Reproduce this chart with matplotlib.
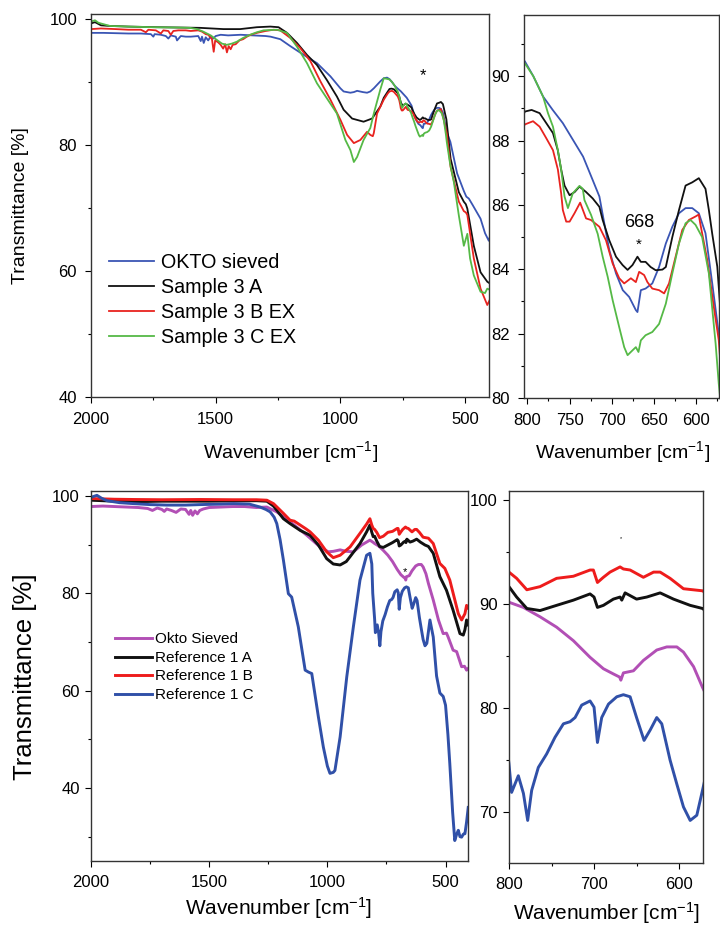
import numpy as np
import matplotlib
matplotlib.use("Agg")
import matplotlib.pyplot as plt
from matplotlib.ticker import MultipleLocator

plt.rcParams["font.family"] = ["Liberation Sans", "DejaVu Sans"]
plt.rcParams["mathtext.fontset"] = "custom"
plt.rcParams["mathtext.rm"] = "Liberation Sans"
plt.rcParams["mathtext.it"] = "Liberation Sans"

# ---------------- top: OKTO sieved / Sample 3 ----------------
okto_wn = [2000, 1950, 1900, 1850, 1800, 1760, 1750, 1745, 1720, 1700, 1690, 1680, 1660, 1655,
           1640, 1620, 1600, 1570, 1560, 1555, 1548, 1540, 1530, 1520, 1510, 1500, 1480, 1450,
           1400, 1350, 1300, 1280, 1241, 1201, 1147, 1094, 1040, 1000, 987, 960, 946, 933, 910,
           893, 880, 866, 840, 826, 813, 803, 793, 781.5, 770, 758, 746, 734, 722.6, 714.7, 710.8,
           703, 695, 687, 679.4, 671.5, 669.6, 665.6, 660, 652, 644, 636, 628.3, 620.4, 612.6,
           604.7, 596.9, 589, 581, 573.3, 559, 532, 505, 495, 485, 470, 438, 420, 405, 400]
okto_t = [97.8, 97.8, 97.75, 97.7, 97.7, 97.6, 97.2, 97.6, 97.5, 97.3, 96.9, 97.4, 97.2, 96.6,
          97.3, 97.2, 97.2, 97.3, 96.5, 97.2, 96.2, 97.1, 96.6, 97.3, 96.9, 97.3, 97.5, 97.4,
          97.5, 97.4, 97.3, 97.2, 96.8, 95.7, 94.3, 93.0, 90.9, 89.0, 88.5, 88.3, 88.4, 88.6, 88.4,
          88.3, 88.5, 89.0, 90.1, 90.6, 90.7, 90.46, 90.0, 89.37, 88.95, 88.54, 88.02, 87.5, 86.77,
          86.26, 85.7, 84.6, 83.87, 83.35, 83.14, 82.73, 82.67, 83.35, 83.4, 83.56, 84.07, 84.8,
          85.32, 85.74, 85.9, 85.9, 85.74, 85.12, 83.56, 82.0, 80.5, 75.5, 72.7, 71.8, 71.5, 70.5,
          68.3, 66.0, 64.8, 65.5]

s3a_wn = [2000, 1984, 1960, 1924, 1850, 1737, 1650, 1563, 1469, 1402, 1335, 1281, 1248, 1214,
          1174, 1134, 1094, 1054, 1014, 987, 953, 907, 873, 840, 826, 813, 803, 795, 785.5, 777.6,
          769.7, 764, 760, 756, 750, 744, 738.3, 730.5, 722.6, 714.7, 710.8, 703, 695, 687.2,
          681.3, 675.5, 669.6, 665.6, 660, 654, 648, 640, 636, 628.3, 620.4, 612.6, 604.7, 596.9,
          589, 585, 581, 575, 573, 558, 525, 505, 497, 491, 465, 438, 411, 400]
s3a_t = [99.3, 99.5, 99.0, 98.9, 98.8, 98.7, 98.65, 98.6, 98.4, 98.4, 98.7, 98.8, 98.7, 97.8,
         96.2, 94.3, 92.7, 90.3, 87.7, 85.6, 84.2, 83.7, 84.2, 86.1, 87.5, 88.3, 88.9, 88.95, 88.85,
         88.54, 88.23, 87.7, 87.1, 86.6, 86.3, 86.4, 86.57, 86.4, 86.2, 85.94, 85.53, 84.9, 84.39,
         84.13, 83.98, 84.13, 84.39, 84.23, 84.23, 84.07, 83.97, 83.99, 84.07, 85.0, 85.84, 86.6,
         86.7, 86.83, 86.5, 85.84, 85.1, 84.08, 83.35, 77.8, 72.5, 71.0, 70.6, 69.9, 64.0, 59.8,
         58.3, 58.0]

s3b_wn = [2000, 1960, 1900, 1850, 1800, 1780, 1770, 1740, 1720, 1710, 1690, 1680, 1670, 1650,
          1620, 1600, 1570, 1555, 1540, 1530, 1515, 1508, 1502, 1490, 1480, 1470, 1462, 1455,
          1448, 1440, 1432, 1420, 1405, 1390, 1375, 1360, 1335, 1300, 1268, 1241, 1201, 1161,
          1120, 1080, 1040, 1000, 973, 946, 920, 893, 880, 870, 866, 853, 826, 810, 803, 793.3,
          785.5, 777.6, 769.7, 763.9, 760, 758, 754, 750, 744.2, 737.5, 730.5, 724.6, 714.7,
          706.9, 699, 691.2, 685.3, 677.4, 671.5, 667.6, 661.7, 657.8, 652, 644, 638, 632.2,
          624.4, 616.5, 608.7, 600.8, 597, 594.9, 587, 579.2, 573.3, 558, 525, 505, 497, 491,
          465, 438, 411, 400]
s3b_t = [98.4, 98.5, 98.4, 98.3, 98.3, 97.9, 98.3, 98.2, 97.7, 98.2, 98.1, 97.5, 98.1, 98.2,
         98.2, 98.1, 98.2, 98.0, 97.6, 97.5, 96.8, 94.8, 96.6, 96.3, 95.9, 95.3, 96.0, 94.7, 95.7,
         95.2, 95.9, 96.0, 96.6, 96.8, 97.2, 97.5, 97.8, 98.1, 98.3, 98.2, 97.0, 95.4, 93.3, 90.1,
         87.2, 84.0, 81.6, 80.3, 80.8, 82.1, 81.6, 81.4, 81.9, 85.0, 87.2, 88.2, 88.5, 88.6,
         88.43, 88.07, 87.7, 87.1, 86.36, 85.84, 85.48, 85.48, 85.74, 86.07, 85.58, 85.53, 85.32,
         84.9, 84.18, 83.72, 83.56, 83.72, 83.6, 83.92, 83.82, 83.6, 83.4, 83.35, 83.25, 83.56,
         84.39, 85.22, 85.53, 85.64, 85.7, 85.38, 84.3, 82.84, 81.8, 76.5, 71.0, 69.5, 69.3, 68.9,
         62.0, 57.2, 54.6, 55.5]

s3c_wn = [2000, 1984, 1970, 1924, 1850, 1750, 1650, 1603, 1575, 1550, 1520, 1496, 1475, 1456,
          1435, 1415, 1390, 1362, 1335, 1308, 1254, 1214, 1174, 1134, 1094, 1054, 1014, 980, 960,
          946, 933, 907, 880, 866, 840, 826, 813, 803, 793, 781.5, 775.6, 769.7, 763.9, 760, 756,
          752, 746.2, 738.3, 734.4, 732.4, 724.6, 716.7, 710.8, 704.9, 699, 691.2, 685.3, 681.3,
          675.5, 671.5, 668.4, 665.6, 660, 652, 644, 636, 628.3, 620.4, 612.6, 606.7, 600.8, 593,
          585, 577, 573.3, 560, 545, 525, 505, 491, 480, 465, 438, 420, 411, 400]
s3c_t = [99.6, 99.8, 99.4, 98.9, 98.8, 98.7, 98.65, 98.6, 98.4, 98.0, 97.4, 96.7, 96.1, 95.9,
         96.1, 96.4, 97.0, 97.5, 97.9, 98.2, 98.3, 97.8, 95.6, 93.0, 89.8, 87.4, 85.0, 80.8, 79.2,
         77.3, 78.1, 80.8, 82.7, 85.0, 88.8, 90.6, 90.5, 90.4, 90.0, 89.37, 88.85, 88.43, 87.7,
         87.1, 86.26, 85.9, 86.36, 86.59, 86.5, 86.15, 85.69, 85.1, 84.39, 83.77, 83.04, 82.2,
         81.58, 81.33, 81.48, 81.58, 81.43, 81.79, 81.95, 82.05, 82.3, 82.93, 83.87, 84.8, 85.43,
         85.53, 85.38, 85.0, 83.87, 81.69, 80.45, 77.0, 74.1, 68.8, 64.0, 65.9, 62.0, 59.3, 56.7,
         56.5, 57.2, 57.0]

# ---------------- bottom: Okto sieved / Reference 1 ----------------
okto2_wn = [2000, 1950, 1900, 1850, 1800, 1760, 1740, 1720, 1700, 1690, 1680, 1660, 1640, 1620,
            1600, 1585, 1578, 1570, 1560, 1550, 1540, 1525, 1500, 1450, 1400, 1350, 1300, 1256,
            1214, 1158, 1087, 1031, 996, 975, 946, 920, 890, 855, 820, 805, 800, 783, 763.5, 744,
            724.3, 704.7, 689, 677.3, 670, 668.5, 665.5, 653.7, 642, 626.3, 614.5, 602.7, 594.9,
            583, 572.5, 552, 530, 510, 496, 489, 468, 453, 432, 420, 411, 405]
okto2_t = [97.8, 97.9, 97.8, 97.7, 97.6, 97.4, 97.0, 97.5, 97.2, 96.8, 97.3, 97.0, 96.6, 97.3,
           97.2, 96.2, 97.0, 96.0, 96.9, 96.3, 97.0, 97.3, 97.6, 97.7, 97.8, 97.8, 97.6, 97.7,
           96.7, 94.7, 91.9, 89.5, 88.5, 88.6, 88.9, 88.6, 88.5, 89.9, 90.9, 90.4, 90.2, 89.7, 88.8,
           87.8, 86.5, 84.9, 83.8, 83.3, 83.0, 82.7, 83.4, 83.6, 84.6, 85.6, 85.9, 85.9, 85.4, 84.0,
           82.0, 78.6, 74.5, 71.7, 71.8, 71.0, 68.3, 68.0, 64.9, 65.0, 64.2, 64.5]

r1a_wn = [2000, 1900, 1820, 1700, 1600, 1500, 1400, 1300, 1256, 1228, 1186, 1158, 1115, 1073,
          1038, 1003, 975, 946, 920, 904, 862, 834, 820, 812, 806, 800, 791, 779, 763.5, 744,
          724.3, 704.7, 700, 696, 689, 677.3, 669.4, 667.4, 663.5, 650, 638, 622.3, 606.6, 587,
          572.5, 552, 524, 510, 496, 468, 439, 425, 418, 411, 405]
r1a_t = [99.1, 98.9, 98.8, 98.9, 98.9, 98.9, 98.95, 99.0, 98.9, 97.9, 95.3, 94.3, 92.9, 91.9,
         89.9, 87.1, 86.0, 85.8, 86.5, 87.5, 90.2, 92.6, 94.0, 92.5, 91.6, 91.7, 90.7, 89.6, 89.4,
         89.9, 90.4, 91.0, 90.7, 89.7, 89.9, 90.5, 90.7, 90.4, 91.1, 90.5, 90.7, 91.1, 90.5, 89.9,
         89.6, 88.2, 83.4, 82.0, 80.6, 76.5, 71.7, 71.4, 72.5, 74.5, 73.5]

r1b_wn = [2000, 1900, 1820, 1700, 1538, 1400, 1300, 1256, 1228, 1186, 1158, 1140, 1115, 1090,
          1073, 1038, 1003, 975, 946, 904, 862, 834, 820, 812, 806, 800, 791, 779, 763.5, 744,
          724.3, 704.7, 700.8, 696, 689, 681.2, 669.4, 665.5, 657.6, 642, 630, 622.3, 610.6,
          594.9, 572.5, 552, 524, 503, 482, 446, 432, 418, 411, 405]
r1b_t = [99.45, 99.3, 99.25, 99.2, 99.25, 99.2, 99.2, 99.1, 98.4, 96.4, 95.0, 94.8, 94.0, 93.2,
         92.6, 90.9, 88.5, 87.3, 87.8, 89.5, 92.3, 94.2, 95.3, 94.0, 93.3, 93.1, 92.5, 91.4, 91.7,
         92.5, 92.7, 93.3, 93.3, 92.1, 92.6, 93.1, 93.6, 93.4, 93.3, 92.6, 93.1, 93.1, 92.5, 91.5,
         91.3, 90.2, 86.1, 85.1, 82.7, 75.8, 74.5, 75.8, 77.5, 77.0]

r1c_wn = [2000, 1975, 1955, 1932, 1880, 1820, 1750, 1679, 1600, 1538, 1450, 1397, 1330, 1285,
          1260, 1242, 1225, 1214, 1200, 1186, 1165, 1151, 1123, 1094, 1080, 1066, 1038, 1017,
          1000, 989, 975, 968, 946, 918, 890, 862, 834, 820, 812, 808, 800, 796.9, 789, 783, 778,
          773.3, 765.5, 755.7, 745.9, 736, 728.2, 722.3, 714.5, 704.7, 700, 696, 691, 683, 673.3,
          665.5, 657.6, 650, 641.2, 634, 626.3, 620.4, 610.6, 602.7, 594.9, 587, 579.2, 572.5,
          566, 552, 538, 524, 510, 500, 490, 482, 470, 461, 453, 446, 439, 432, 425, 418, 411, 404]
r1c_t = [99.7, 100.1, 99.5, 99.0, 98.6, 98.4, 98.2, 98.1, 98.1, 98.2, 98.3, 98.4, 98.3, 97.7,
         97.2, 96.7, 95.6, 94.3, 91.0, 86.8, 79.9, 79.2, 73.1, 64.2, 63.8, 63.5, 54.6, 48.4, 44.5,
         43.0, 43.2, 43.6, 50.5, 62.8, 73.1, 82.7, 87.8, 88.2, 86.0, 80.0, 74.65, 71.9, 73.5,
         71.8, 69.2, 72.1, 74.3, 75.6, 77.2, 78.5, 78.7, 79.1, 80.3, 80.7, 80.1, 76.7, 79.1, 80.4,
         81.1, 81.3, 81.1, 79.1, 76.9, 77.9, 79.1, 78.5, 75.0, 72.7, 70.5, 69.2, 69.7, 72.1, 74.5,
         71.0, 63.0, 59.5, 58.8, 57.0, 51.0, 45.0, 35.0, 29.2, 30.5, 31.3, 30.0, 29.9, 30.5, 30.6,
         33.0, 36.0]

top_series = [(okto_wn, okto_t, "#3a55b4", "OKTO sieved"),
              (s3a_wn, s3a_t, "#111111", "Sample 3 A"),
              (s3b_wn, s3b_t, "#e8231f", "Sample 3 B EX"),
              (s3c_wn, s3c_t, "#55b946", "Sample 3 C EX")]
bottom_series = [(okto2_wn, okto2_t, "#b24fb5", "Okto Sieved"),
                 (r1a_wn, r1a_t, "#111111", "Reference 1 A"),
                 (r1b_wn, r1b_t, "#ee1c1c", "Reference 1 B"),
                 (r1c_wn, r1c_t, "#3050a8", "Reference 1 C")]


def style(ax, xmaj, xmin, ymaj, ymin, fs, xpad, ypad):
    ax.xaxis.set_major_locator(MultipleLocator(xmaj))
    ax.xaxis.set_minor_locator(MultipleLocator(xmin))
    ax.yaxis.set_major_locator(MultipleLocator(ymaj))
    ax.yaxis.set_minor_locator(MultipleLocator(ymin))
    ax.tick_params(which="major", direction="out", length=4, width=0.8, labelsize=fs)
    ax.tick_params(which="minor", direction="out", length=2.5, width=0.8)
    ax.tick_params(axis="x", which="major", pad=xpad)
    ax.tick_params(axis="y", which="major", pad=ypad)
    for sp in ax.spines.values():
        sp.set_linewidth(1.0)
        sp.set_color("#333333")


fig = plt.figure(figsize=(7.2, 9.26), dpi=100)
fig.patch.set_facecolor("white")

ax1 = fig.add_axes([0.1264, 0.5713, 0.5528, 0.4136])
ax2 = fig.add_axes([0.7278, 0.5702, 0.2708, 0.4136])
ax3 = fig.add_axes([0.1264, 0.0702, 0.5236, 0.3996])
ax4 = fig.add_axes([0.7069, 0.0680, 0.2694, 0.4017])

for wn, t, c, lab in top_series:
    ax1.plot(wn, t, color=c, lw=1.3, label=lab)
    ax2.plot(wn, t, color=c, lw=1.3)
for wn, t, c, lab in bottom_series:
    ax3.plot(wn, t, color=c, lw=2.1, label=lab)
    ax4.plot(wn, t, color=c, lw=2.1)

ax1.set_xlim(2000, 404)
ax1.set_ylim(40, 100.8)
style(ax1, 500, 250, 20, 10, 12, 7, 6)
ax2.set_xlim(804, 573)
ax2.set_ylim(80, 91.9)
style(ax2, 50, 25, 2, 1, 12, 7, 6)
ax3.set_xlim(2000, 405)
ax3.set_ylim(25, 101)
style(ax3, 500, 250, 20, 10, 12, 6, 4)
ax4.set_xlim(800, 572)
ax4.set_ylim(65.1, 100.9)
style(ax4, 100, 50, 10, 5, 12, 6, 4)

ax1.legend(loc="upper left", bbox_to_anchor=(0.045, 0.375), frameon=False, fontsize=14.2,
           handlelength=2.3, handletextpad=0.32, labelspacing=0.3, borderpad=0, borderaxespad=0)
ax3.legend(loc="upper left", bbox_to_anchor=(0.064, 0.618), frameon=False, fontsize=11,
           handlelength=2.4, handletextpad=0.2, labelspacing=0.3, borderpad=0, borderaxespad=0)

# annotations
ax1.text(667, 91.0, "*", ha="center", va="center", fontsize=12)
ax2.text(667, 85.44, "668", ha="center", va="center", fontsize=13)
ax2.text(668, 84.75, "*", ha="center", va="center", fontsize=11)
ax3.text(670, 84.4, "*", ha="center", va="center", fontsize=8)
ax4.text(668, 96.3, "*", ha="center", va="center", fontsize=4)

# axis labels
xl = "Wavenumber [cm$^{-1}$]"
fig.text(0.0278, 0.7775, "Transmittance [%]", rotation=90, ha="center", va="center", fontsize=14)
fig.text(0.4028, 0.5119, xl, ha="center", va="center", fontsize=14)
fig.text(0.8646, 0.5119, xl, ha="center", va="center", fontsize=14)
fig.text(0.0347, 0.2692, "Transmittance [%]", rotation=90, ha="center", va="center", fontsize=18.5)
fig.text(0.3875, 0.0194, xl, ha="center", va="center", fontsize=15)
fig.text(0.8426, 0.0140, xl, ha="center", va="center", fontsize=15)

fig.savefig("out.png", dpi=100, facecolor="white")
